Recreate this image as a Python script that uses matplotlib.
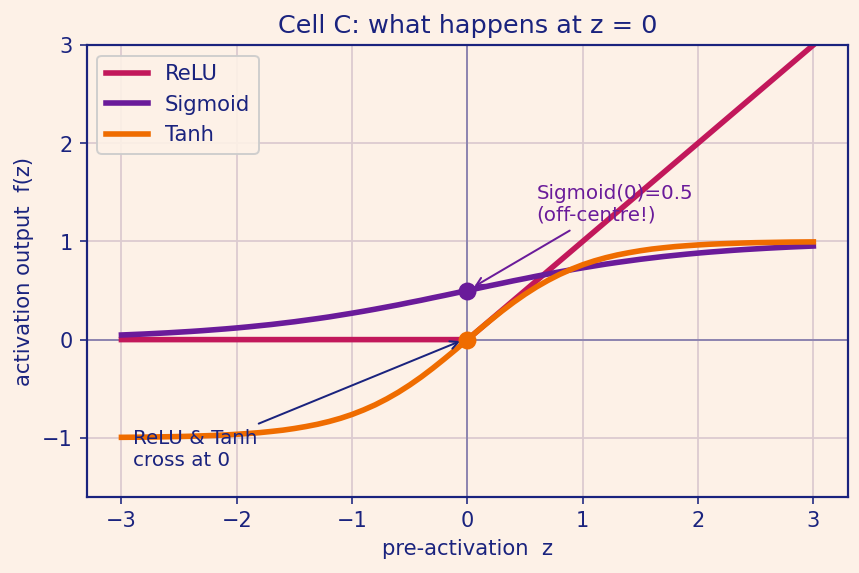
import matplotlib
matplotlib.use('Agg')
import matplotlib.pyplot as plt

# Valores
z = [-3.0, -2.9, -2.8, -2.7, -2.6, -2.5, -2.4, -2.3, -2.2, -2.1,
     -2.0, -1.9, -1.8, -1.7, -1.6, -1.5, -1.4, -1.3, -1.2, -1.1,
     -1.0, -0.9, -0.8, -0.7, -0.6, -0.5, -0.4, -0.3, -0.2, -0.1,
     0.0, 0.1, 0.2, 0.3, 0.4, 0.5, 0.6, 0.7, 0.8, 0.9,
     1.0, 1.1, 1.2, 1.3, 1.4, 1.5, 1.6, 1.7, 1.8, 1.9,
     2.0, 2.1, 2.2, 2.3, 2.4, 2.5, 2.6, 2.7, 2.8, 2.9, 3.0]
relu = [0, 0, 0, 0, 0, 0, 0, 0, 0, 0,
        0, 0, 0, 0, 0, 0, 0, 0, 0, 0,
        0, 0, 0, 0, 0, 0, 0, 0, 0, 0,
        0.0, 0.1, 0.2, 0.3, 0.4, 0.5, 0.6, 0.7, 0.8, 0.9,
        1.0, 1.1, 1.2, 1.3, 1.4, 1.5, 1.6, 1.7, 1.8, 1.9,
        2.0, 2.1, 2.2, 2.3, 2.4, 2.5, 2.6, 2.7, 2.8, 2.9, 3.0]
sigmoid = [0.047, 0.052, 0.057, 0.063, 0.069, 0.076, 0.083, 0.091, 0.100, 0.109,
           0.119, 0.130, 0.142, 0.154, 0.168, 0.182, 0.198, 0.214, 0.231, 0.250,
           0.269, 0.289, 0.310, 0.332, 0.354, 0.378, 0.401, 0.426, 0.450, 0.475,
           0.500, 0.525, 0.550, 0.574, 0.599, 0.622, 0.646, 0.668, 0.690, 0.711,
           0.731, 0.750, 0.769, 0.786, 0.802, 0.818, 0.832, 0.846, 0.858, 0.870,
           0.881, 0.891, 0.900, 0.909, 0.917, 0.924, 0.931, 0.937, 0.943, 0.948, 0.953]
tanh = [-0.995, -0.994, -0.993, -0.991, -0.989, -0.987, -0.984, -0.980, -0.976, -0.971,
        -0.964, -0.956, -0.947, -0.935, -0.922, -0.905, -0.885, -0.862, -0.834, -0.801,
        -0.762, -0.716, -0.664, -0.604, -0.537, -0.462, -0.380, -0.291, -0.197, -0.100,
        0.000, 0.100, 0.197, 0.291, 0.380, 0.462, 0.537, 0.604, 0.664, 0.716,
        0.762, 0.801, 0.834, 0.862, 0.885, 0.905, 0.922, 0.935, 0.947, 0.956,
        0.964, 0.971, 0.976, 0.980, 0.984, 0.987, 0.989, 0.991, 0.993, 0.994, 0.995]

FONDO = '#fdf1e7'
AZUL = '#1a237e'
C_RELU = '#c2185b'
C_SIG = '#6a1b9a'
C_TANH = '#ef6c00'

fig, ax = plt.subplots(figsize=(6, 4), dpi=143.33)
fig.patch.set_facecolor(FONDO)
ax.set_facecolor(FONDO)

ax.plot(z, relu, color=C_RELU, lw=2.8, label='ReLU')
ax.plot(z, sigmoid, color=C_SIG, lw=2.8, label='Sigmoid')
ax.plot(z, tanh, color=C_TANH, lw=2.8, label='Tanh')

# Ejes en cero
ax.axhline(0, color='#8f86b0', lw=1.0, zorder=1.5)
ax.axvline(0, color='#8f86b0', lw=1.0, zorder=1.5)

ax.plot([0], [0.5], 'o', color=C_SIG, ms=8, zorder=5)
ax.plot([0], [0], 'o', color=C_TANH, ms=8, zorder=5)

ax.annotate('Sigmoid(0)=0.5\n(off-centre!)', xy=(0.03, 0.52), xytext=(0.6, 1.38),
            va='center', ha='left', fontsize=10, color=C_SIG,
            arrowprops=dict(arrowstyle='->', color=C_SIG, lw=1))
ax.annotate('ReLU & Tanh\ncross at 0', xy=(-0.03, 0.0), xytext=(-2.9, -1.12),
            va='center', ha='left', fontsize=10, color=AZUL,
            arrowprops=dict(arrowstyle='->', color=AZUL, lw=1))

ax.set_xlim(-3.3, 3.3)
ax.set_ylim(-1.6, 3)
ax.set_xticks([-3, -2, -1, 0, 1, 2, 3])
ax.set_yticks([-1, 0, 1, 2, 3])
ax.grid(True, color='#dccbd0', lw=0.9)
ax.set_axisbelow(True)

for s in ax.spines.values():
    s.set_color(AZUL)
    s.set_linewidth(1.1)
ax.tick_params(colors=AZUL, labelsize=10.5)

ax.set_title('Cell C: what happens at z = 0', fontsize=12.8, color=AZUL)
ax.set_xlabel('pre-activation  z', fontsize=10.6, color=AZUL)
ax.set_ylabel('activation output  f(z)', fontsize=10.6, color=AZUL)

leg = ax.legend(loc='upper left', fontsize=10.6, facecolor=FONDO, framealpha=0.9)
for t in leg.get_texts():
    t.set_color(AZUL)

fig.subplots_adjust(left=0.101, right=0.986, top=0.921, bottom=0.133)
fig.savefig('out.png', dpi=143.33, facecolor=FONDO)
